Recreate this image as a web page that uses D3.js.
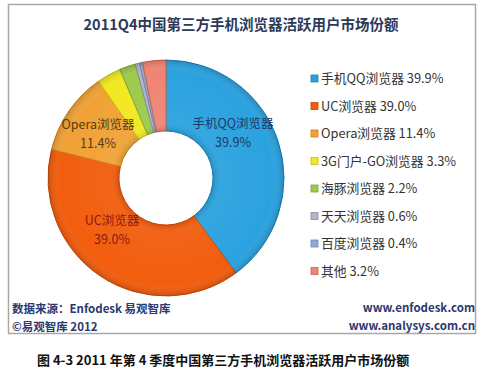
<!DOCTYPE html>
<html>
<head>
<meta charset="utf-8">
<script src="https://cdn.jsdelivr.net/npm/d3@7"></script>
<style>
  body { margin: 0; background: #fff; }
  text { font-family: "Noto Sans CJK SC", "Noto Sans", sans-serif; }
</style>
</head>
<body>
<div id="chart"></div>
<script>
// data
const browsers = ['手机QQ浏览器', 'UC浏览器', 'Opera浏览器', '3G门户-GO浏览器', '海豚浏览器', '天天浏览器', '百度浏览器', '其他'];
const shares = [39.9, 39.0, 11.4, 3.3, 2.2, 0.6, 0.4, 3.2];
const sliceColors = ['#2ba2df', '#f25d0e', '#f0a236', '#f2e821', '#9dcb4c', '#b4b4c4', '#8eaad4', '#f08474'];
const edgeColors = ['#1b7fb5', '#c8470a', '#c98220', '#c9bf12', '#7aa632', '#8a8a9a', '#6a88b4', '#c8604f'];
const labelColors = ['#1e3a66', '#8a1a10', '#5a3a10'];

const W = 480;
const H = 375;
const CX = 166;
const CY = 178;
const R_OUT = 118;
const R_IN = 47;

const svg = d3.select('#chart')
    .append('svg')
        .attr('width', W)
        .attr('height', H);

// outer frame
svg.append('rect')
    .attr('x', 8.5)
    .attr('y', 4.5)
    .attr('width', 467)
    .attr('height', 329)
    .attr('fill', '#fff')
    .attr('stroke', '#a8a8a8')
    .attr('stroke-width', 1.5);

svg.append('text')
    .text('2011Q4中国第三方手机浏览器活跃用户市场份额')
    .attr('x', 241)
    .attr('y', 30)
    .attr('text-anchor', 'middle')
    .attr('font-size', 14.5)
    .attr('font-weight', 'bold')
    .attr('fill', '#2c3a58');

const data = browsers.map((name, i) => ({ name: name, value: shares[i], i: i }));

const pie = d3.pie()
    .sort(null)
    .value(d => d.value);

const arc = d3.arc()
    .innerRadius(R_IN)
    .outerRadius(R_OUT);

const arcs = pie(data);

const g = svg.append('g')
    .attr('transform', 'translate(' + CX + ',' + CY + ')');

g.selectAll('path.slice')
    .data(arcs)
    .enter()
    .append('path')
        .attr('class', 'slice')
        .attr('d', arc)
        .attr('fill', d => sliceColors[d.data.i])
        .attr('stroke', d => edgeColors[d.data.i])
        .attr('stroke-width', 1);

// bevel shading over the ring
const defs = svg.append('defs');
const grad = defs.append('radialGradient')
    .attr('id', 'bevel')
    .attr('gradientUnits', 'userSpaceOnUse')
    .attr('cx', 0)
    .attr('cy', 0)
    .attr('r', R_OUT);
grad.append('stop').attr('offset', R_IN / R_OUT).attr('stop-color', '#000').attr('stop-opacity', 0.12);
grad.append('stop').attr('offset', (R_IN + 8) / R_OUT).attr('stop-color', '#fff').attr('stop-opacity', 0.05);
grad.append('stop').attr('offset', 0.9).attr('stop-color', '#fff').attr('stop-opacity', 0);
grad.append('stop').attr('offset', 1).attr('stop-color', '#000').attr('stop-opacity', 0.15);

g.append('path')
    .attr('d', d3.arc().innerRadius(R_IN).outerRadius(R_OUT).startAngle(0).endAngle(2 * Math.PI)())
    .attr('fill', 'url(#bevel)')
    .attr('pointer-events', 'none');

// labels on the three big slices
const labelPos = [[67, -50], [-54, 47], [-68, -49]];
arcs.slice(0, 3).forEach((d, k) => {
    const t = g.append('text')
        .attr('text-anchor', 'middle')
        .attr('font-size', 12.5)
        .attr('fill', labelColors[k]);
    t.append('tspan')
        .attr('x', labelPos[k][0])
        .attr('y', labelPos[k][1])
        .text(d.data.name);
    t.append('tspan')
        .attr('x', labelPos[k][0])
        .attr('y', labelPos[k][1] + 19)
        .text(d.data.value.toFixed(1) + '%');
});

// legend
const legend = svg.append('g')
    .attr('transform', 'translate(311,78)');

const rows = legend.selectAll('g')
    .data(data)
    .enter()
    .append('g')
        .attr('transform', d => 'translate(0,' + d.i * 27.5 + ')');

rows.append('rect')
    .attr('x', 0)
    .attr('y', -3)
    .attr('width', 7)
    .attr('height', 7)
    .attr('fill', d => sliceColors[d.i])
    .attr('stroke', d => edgeColors[d.i])
    .attr('stroke-width', 0.8);

rows.append('text')
    .attr('x', 10)
    .attr('y', 5)
    .attr('font-size', 12.8)
    .attr('fill', '#333')
    .text(d => d.name + ' ' + d.value.toFixed(1) + '%');

// footer
const footColor = '#2a3970';
svg.append('text')
    .text('数据来源：Enfodesk 易观智库')
    .attr('x', 12)
    .attr('y', 313)
    .attr('font-size', 11.5)
    .attr('font-weight', 'bold')
    .attr('fill', footColor);

svg.append('text')
    .text('©易观智库 2012')
    .attr('x', 12)
    .attr('y', 331)
    .attr('font-size', 11.5)
    .attr('font-weight', 'bold')
    .attr('fill', footColor);

svg.append('text')
    .text('www.enfodesk.com')
    .attr('x', 475)
    .attr('y', 312)
    .attr('text-anchor', 'end')
    .attr('font-size', 11.5)
    .attr('font-weight', 'bold')
    .attr('fill', footColor);

svg.append('text')
    .text('www.analysys.com.cn')
    .attr('x', 475)
    .attr('y', 330)
    .attr('text-anchor', 'end')
    .attr('font-size', 11.5)
    .attr('font-weight', 'bold')
    .attr('fill', footColor);

svg.append('text')
    .text('图 4-3 2011 年第 4 季度中国第三方手机浏览器活跃用户市场份额')
    .attr('x', 37)
    .attr('y', 365)
    .attr('font-size', 13)
    .attr('font-weight', 'bold')
    .attr('fill', '#111');
</script>
</body>
</html>
